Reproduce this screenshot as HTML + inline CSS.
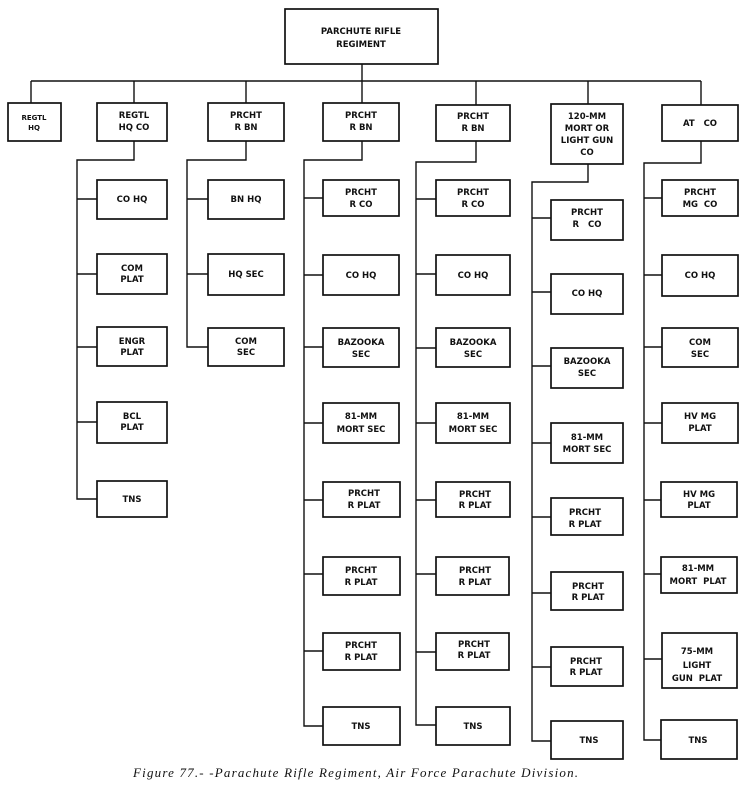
<!DOCTYPE html>
<html><head><meta charset="utf-8"><style>
html,body{margin:0;padding:0;background:#fff;}
svg{display:block;}
text{font-family:"DejaVu Sans","Liberation Sans",sans-serif;font-weight:bold;font-size:8.5px;fill:#111;text-anchor:middle;}
.cap{font-family:"Liberation Serif",serif;font-style:italic;font-weight:normal;font-size:13px;text-anchor:start;}
rect{fill:#fff;stroke:#111;stroke-width:1.7;}
path{fill:none;stroke:#111;stroke-width:1.4;}
</style></head><body>
<svg width="750" height="789" viewBox="0 0 750 789">
<path d="M362 64V81 M31 81H701 M31 81V103 M134 81V103 M246 81V103 M362 81V103 M476 81V105 M588 81V104 M701 81V105"/>
<rect x="285" y="9" width="153" height="55"/>
<text x="361" y="34">PARCHUTE RIFLE</text><text x="361" y="47">REGIMENT</text>

<rect x="8" y="103" width="53" height="38"/><text x="34" y="120" style="font-size:7px">REGTL</text><text x="34" y="130" style="font-size:7px">HQ</text>
<rect x="97" y="103" width="70" height="38"/><text x="134" y="118">REGTL</text><text x="134" y="130">HQ CO</text>
<rect x="208" y="103" width="76" height="38"/><text x="246" y="118">PRCHT</text><text x="246" y="130">R BN</text>
<rect x="323" y="103" width="76" height="38"/><text x="361" y="118">PRCHT</text><text x="361" y="130">R BN</text>
<rect x="436" y="105" width="74" height="36"/><text x="473" y="119">PRCHT</text><text x="473" y="131">R BN</text>
<rect x="551" y="104" width="72" height="60"/><text x="587" y="119">120-MM</text><text x="587" y="131">MORT OR</text><text x="587" y="143">LIGHT GUN</text><text x="587" y="155">CO</text>
<rect x="662" y="105" width="76" height="36"/><text x="700" y="126">AT&#160;&#160;&#160;CO</text>

<path d="M134 141V160H77V499H97 M77 199H97 M77 274H97 M77 347H97 M77 422H97"/>
<rect x="97" y="180" width="70" height="39"/><text x="132" y="202">CO HQ</text>
<rect x="97" y="254" width="70" height="40"/><text x="132" y="271">COM</text><text x="132" y="282">PLAT</text>
<rect x="97" y="327" width="70" height="39"/><text x="132" y="344">ENGR</text><text x="132" y="355">PLAT</text>
<rect x="97" y="402" width="70" height="41"/><text x="132" y="419">BCL</text><text x="132" y="430">PLAT</text>
<rect x="97" y="481" width="70" height="36"/><text x="132" y="502">TNS</text>

<path d="M246 141V160H187V347H208 M187 199H208 M187 274H208"/>
<rect x="208" y="180" width="76" height="39"/><text x="246" y="202">BN HQ</text>
<rect x="208" y="254" width="76" height="41"/><text x="246" y="277">HQ SEC</text>
<rect x="208" y="328" width="76" height="38"/><text x="246" y="344">COM</text><text x="246" y="355">SEC</text>

<path d="M362 141V160H304V726H323 M304 198H323 M304 275H323 M304 347H323 M304 423H323 M304 500H323 M304 574H323 M304 651H323"/>
<rect x="323" y="180" width="76" height="36"/><text x="361" y="195">PRCHT</text><text x="361" y="207">R CO</text>
<rect x="323" y="255" width="76" height="40"/><text x="361" y="278">CO HQ</text>
<rect x="323" y="328" width="76" height="39"/><text x="361" y="345">BAZOOKA</text><text x="361" y="357">SEC</text>
<rect x="323" y="403" width="76" height="40"/><text x="361" y="419">81-MM</text><text x="361" y="432">MORT SEC</text>
<rect x="323" y="482" width="77" height="35"/><text x="364" y="496">PRCHT</text><text x="364" y="508">R PLAT</text>
<rect x="323" y="557" width="77" height="38"/><text x="361" y="573">PRCHT</text><text x="361" y="585">R PLAT</text>
<rect x="323" y="633" width="77" height="37"/><text x="361" y="648">PRCHT</text><text x="361" y="660">R PLAT</text>
<rect x="323" y="707" width="77" height="38"/><text x="361" y="729">TNS</text>

<path d="M476 141V162H416V725H436 M416 199H436 M416 274H436 M416 348H436 M416 423H436 M416 500H436 M416 574H436 M416 652H436"/>
<rect x="436" y="180" width="74" height="36"/><text x="473" y="195">PRCHT</text><text x="473" y="207">R CO</text>
<rect x="436" y="255" width="74" height="40"/><text x="473" y="278">CO HQ</text>
<rect x="436" y="328" width="74" height="39"/><text x="473" y="345">BAZOOKA</text><text x="473" y="357">SEC</text>
<rect x="436" y="403" width="74" height="40"/><text x="473" y="419">81-MM</text><text x="473" y="432">MORT SEC</text>
<rect x="436" y="482" width="74" height="35"/><text x="475" y="497">PRCHT</text><text x="475" y="508">R PLAT</text>
<rect x="436" y="557" width="73" height="38"/><text x="475" y="573">PRCHT</text><text x="475" y="585">R PLAT</text>
<rect x="436" y="633" width="73" height="37"/><text x="474" y="647">PRCHT</text><text x="474" y="658">R PLAT</text>
<rect x="436" y="707" width="74" height="38"/><text x="473" y="729">TNS</text>

<path d="M588 164V182H532V741H551 M532 218H551 M532 292H551 M532 366H551 M532 443H551 M532 517H551 M532 593H551 M532 667H551"/>
<rect x="551" y="200" width="72" height="40"/><text x="587" y="215">PRCHT</text><text x="587" y="227">R&#160;&#160;&#160;CO</text>
<rect x="551" y="274" width="72" height="40"/><text x="587" y="296">CO HQ</text>
<rect x="551" y="348" width="72" height="40"/><text x="587" y="364">BAZOOKA</text><text x="587" y="376">SEC</text>
<rect x="551" y="423" width="72" height="40"/><text x="587" y="440">81-MM</text><text x="587" y="452">MORT SEC</text>
<rect x="551" y="498" width="72" height="37"/><text x="585" y="515">PRCHT</text><text x="585" y="527">R PLAT</text>
<rect x="551" y="572" width="72" height="38"/><text x="588" y="589">PRCHT</text><text x="588" y="600">R PLAT</text>
<rect x="551" y="647" width="72" height="39"/><text x="586" y="664">PRCHT</text><text x="586" y="675">R PLAT</text>
<rect x="551" y="721" width="72" height="38"/><text x="589" y="743">TNS</text>

<path d="M701 141V163H644V740H662 M644 198H662 M644 275H662 M644 347H662 M644 423H662 M644 500H662 M644 574H662 M644 659H662"/>
<rect x="662" y="180" width="76" height="36"/><text x="700" y="195">PRCHT</text><text x="700" y="207">MG&#160;&#160;CO</text>
<rect x="662" y="255" width="76" height="41"/><text x="700" y="278">CO HQ</text>
<rect x="662" y="328" width="76" height="39"/><text x="700" y="345">COM</text><text x="700" y="357">SEC</text>
<rect x="662" y="403" width="76" height="40"/><text x="700" y="419">HV MG</text><text x="700" y="431">PLAT</text>
<rect x="661" y="482" width="76" height="35"/><text x="699" y="497">HV MG</text><text x="699" y="508">PLAT</text>
<rect x="661" y="557" width="76" height="36"/><text x="698" y="571">81-MM</text><text x="698" y="584">MORT&#160;&#160;PLAT</text>
<rect x="662" y="633" width="75" height="55"/><text x="697" y="654">75-MM</text><text x="697" y="668">LIGHT</text><text x="697" y="681">GUN&#160;&#160;PLAT</text>
<rect x="661" y="720" width="76" height="39"/><text x="698" y="743">TNS</text>

<text class="cap" x="133" y="777" textLength="445" lengthAdjust="spacing">Figure 77.- -Parachute Rifle Regiment, Air Force Parachute Division.</text>
</svg>
</body></html>
